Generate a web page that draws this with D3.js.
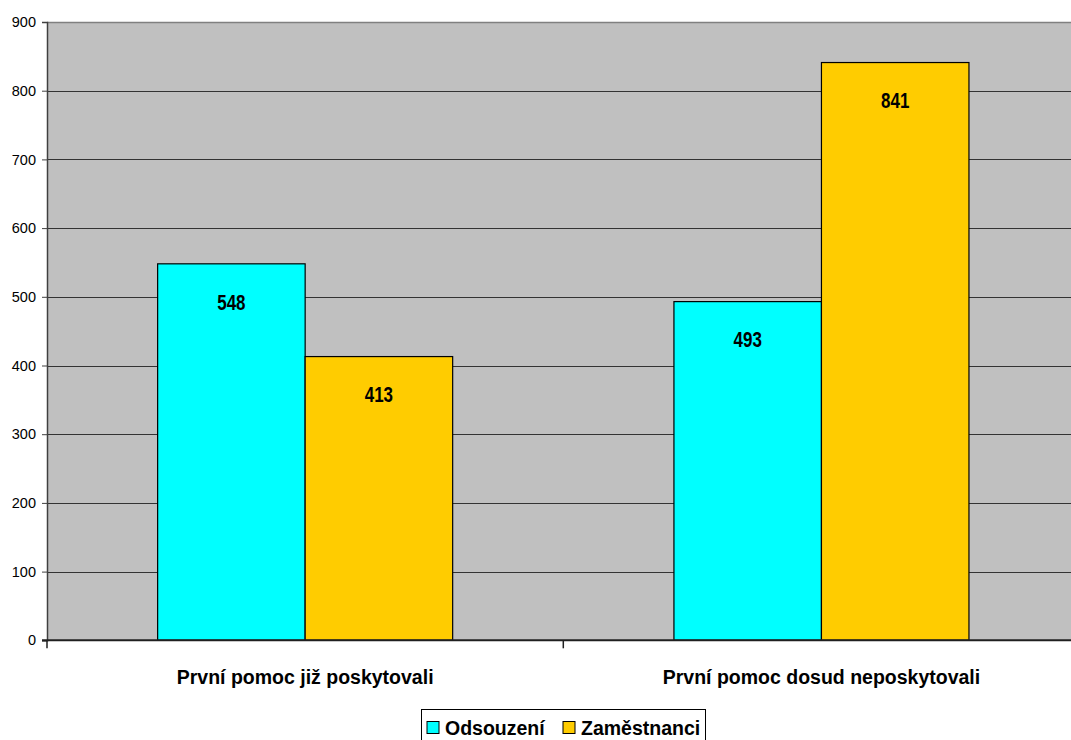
<!DOCTYPE html>
<html>
<head>
<meta charset="utf-8">
<script src="https://cdn.jsdelivr.net/npm/d3@7"></script>
<style>
  html, body { margin: 0; padding: 0; background: #fff; }
  svg { display: block; }
</style>
</head>
<body>
<svg id="chart" width="1071" height="740"></svg>
<script>
// Data
const categories = ["První pomoc již poskytovali", "První pomoc dosud neposkytovali"];
const seriesNames = ["Odsouzení", "Zaměstnanci"];
const odsouzeni = [548, 493];
const zamestnanci = [413, 841];
const yTicks = [0, 100, 200, 300, 400, 500, 600, 700, 800, 900];

const seriesValues = [odsouzeni, zamestnanci];
const colors = ["#00FFFF", "#FFCC00"];

const plot = { left: 47, top: 22, right: 1079.6, bottom: 640.3 };

const svg = d3.select("#chart");

const y = d3.scaleLinear().domain([0, 900]).range([plot.bottom, plot.top]);
const x0 = d3.scaleBand().domain(categories).range([plot.left, plot.right]).paddingInner(0).paddingOuter(0);
// Gap width 150% of one bar between groups
const bw = x0.bandwidth();
const barW = bw / (seriesNames.length + 1.5);
const x1 = d3.scaleBand().domain(seriesNames)
  .range([(bw - barW * seriesNames.length) / 2, (bw + barW * seriesNames.length) / 2]);

// Plot area background
svg.append("rect")
  .attr("x", plot.left).attr("y", plot.top)
  .attr("width", plot.right - plot.left).attr("height", plot.bottom - plot.top)
  .attr("fill", "#C0C0C0");

// Gridlines
svg.append("g").selectAll("line")
  .data(yTicks.filter(t => t > 0 && t < 900))
  .join("line")
  .attr("x1", plot.left).attr("x2", plot.right)
  .attr("y1", d => Math.round(y(d)) + 0.5).attr("y2", d => Math.round(y(d)) + 0.5)
  .attr("stroke", "#333").attr("stroke-width", 1.2);

// Top border of plot area
svg.append("line")
  .attr("x1", plot.left).attr("x2", plot.right)
  .attr("y1", Math.round(y(900)) + 0.5).attr("y2", Math.round(y(900)) + 0.5)
  .attr("stroke", "#808080").attr("stroke-width", 1.5);

// Bars
const groups = svg.append("g").selectAll("g")
  .data(categories)
  .join("g")
  .attr("transform", d => `translate(${x0(d)},0)`);

groups.selectAll("rect")
  .data((c, i) => seriesNames.map((s, j) => ({ s, j, v: seriesValues[j][i] })))
  .join("rect")
  .attr("x", d => x1(d.s))
  .attr("width", x1.bandwidth())
  .attr("y", d => y(d.v))
  .attr("height", d => y(0) - y(d.v))
  .attr("fill", d => colors[d.j])
  .attr("stroke", "#000")
  .attr("stroke-width", 1.2);

// Value labels inside the top of each bar (condensed bold)
groups.selectAll("text")
  .data((c, i) => seriesNames.map((s, j) => ({ s, j, v: seriesValues[j][i] })))
  .join("text")
  .attr("transform", d => `translate(${x1(d.s) + x1.bandwidth() / 2},${y(d.v) + 38}) scale(0.77,1)`)
  .attr("text-anchor", "middle")
  .attr("dominant-baseline", "central")
  .attr("font-family", "'Liberation Sans', Arial, sans-serif")
  .attr("font-weight", "bold")
  .attr("font-size", 22)
  .attr("fill", "#000")
  .text(d => d.v);

// Y axis
const yAxis = d3.axisLeft(y).tickValues(yTicks).tickSize(5).tickPadding(6);
const gy = svg.append("g")
  .attr("transform", `translate(${plot.left},0)`)
  .call(yAxis);
gy.select(".domain").attr("stroke", "#404040").attr("stroke-width", 1.5);
gy.selectAll(".tick line").attr("stroke", "#404040");
gy.selectAll(".tick text")
  .attr("font-family", "'Liberation Sans', Arial, sans-serif")
  .attr("font-size", 14.5)
  .attr("fill", "#000");

// X axis baseline and category separators
svg.append("line")
  .attr("x1", plot.left - 5).attr("x2", plot.right)
  .attr("y1", y(0)).attr("y2", y(0))
  .attr("stroke", "#202020").attr("stroke-width", 2);

const boundaries = categories.map(c => x0(c)).concat([x0(categories[categories.length - 1]) + bw]);
svg.append("g").selectAll("line")
  .data(boundaries)
  .join("line")
  .attr("x1", d => d).attr("x2", d => d)
  .attr("y1", y(0)).attr("y2", y(0) + 8)
  .attr("stroke", "#202020").attr("stroke-width", 1.5);

// Category labels
svg.append("g").selectAll("text")
  .data(categories)
  .join("text")
  .attr("x", d => x0(d) + bw / 2)
  .attr("y", 677)
  .attr("text-anchor", "middle")
  .attr("dominant-baseline", "central")
  .attr("font-family", "'Liberation Sans', Arial, sans-serif")
  .attr("font-weight", "bold")
  .attr("font-size", 19.5)
  .attr("fill", "#000")
  .text(d => d);

// Legend
const legend = svg.append("g");
legend.append("rect")
  .attr("x", 421.5).attr("y", 709.5)
  .attr("width", 284).attr("height", 40)
  .attr("fill", "#fff").attr("stroke", "#000").attr("stroke-width", 1);

const legendItems = [
  { name: seriesNames[0], color: colors[0], x: 427 },
  { name: seriesNames[1], color: colors[1], x: 563 }
];
legendItems.forEach(it => {
  legend.append("rect")
    .attr("x", it.x).attr("y", 721.5)
    .attr("width", 12).attr("height", 12)
    .attr("fill", it.color).attr("stroke", "#000").attr("stroke-width", 1);
  legend.append("text")
    .attr("x", it.x + 18).attr("y", 735)
    .attr("font-family", "'Liberation Sans', Arial, sans-serif")
    .attr("font-weight", "bold")
    .attr("font-size", 19.5)
    .attr("fill", "#000")
    .text(it.name);
});
</script>
</body>
</html>
